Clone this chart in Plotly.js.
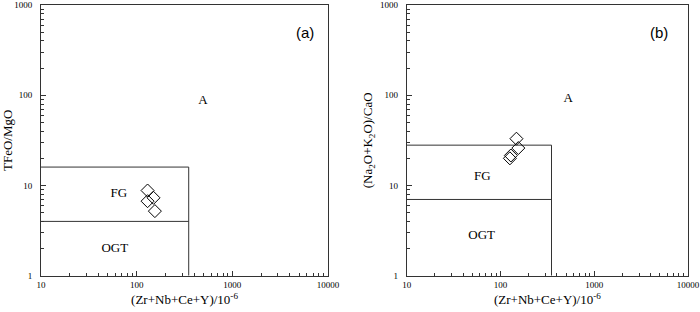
<!DOCTYPE html>
<html><head><meta charset="utf-8">
<script src="https://cdn.plot.ly/plotly-3.0.1.min.js"></script>
<style>html,body{margin:0;padding:0;background:#fff}</style>
</head><body>
<div id="chart" style="width:700px;height:312px"></div>
<script>
// Panel (a) samples
const sampleA_x = [130, 150, 130, 155];
const sampleA_y = [8.8, 7.3, 6.7, 5.2];
// Panel (b) samples
const sampleB_x = [148, 155, 129, 126];
const sampleB_y = [33, 26, 21.5, 20];
// Field boundaries
const boxA_x = [10, 350, 350];
const boxA_y = [16, 16, 1];
const ogtA_x = [10, 350];
const ogtA_y = [4, 4];
const boxB_x = [10, 350, 350];
const boxB_y = [28, 28, 1];
const ogtB_x = [10, 350];
const ogtB_y = [7, 7];
// Field labels
const labels = ['A', 'FG', 'OGT'];
const labelA_x = [493, 65, 59];
const labelA_y = [87, 8, 2];
const labelB_x = [526, 64, 63];
const labelB_y = [92, 12.5, 2.8];
// Tick labels
const xTickVals = [10, 100, 1000, 10000];
const xTickText = ['10', '100', '1000', '10000'];
const yTickVals = [1, 10, 100, 1000];
const yTickText = ['1', '10', '100', '1000'];
const xMinorVals = [20,30,40,50,60,70,80,90,200,300,400,500,600,700,800,900,2000,3000,4000,5000,6000,7000,8000,9000];
const yMinorVals = [2,3,4,5,6,7,8,9,20,30,40,50,60,70,80,90,200,300,400,500,600,700,800,900];

const lineCol = '#333';
const serif = 'Liberation Serif, Times New Roman, serif';

function lineTrace(x, y, xa, ya) {
  return {x, y, xaxis: xa, yaxis: ya, mode: 'lines', type: 'scatter',
    line: {color: lineCol, width: 1}, hoverinfo: 'skip', showlegend: false};
}
function ptTrace(x, y, xa, ya) {
  return {x, y, xaxis: xa, yaxis: ya, mode: 'markers', type: 'scatter',
    marker: {symbol: 'diamond-open', size: 10, color: '#000', line: {width: 1}}, showlegend: false};
}
function txtTrace(x, y, xa, ya) {
  return {x, y, text: labels, xaxis: xa, yaxis: ya, mode: 'text', type: 'scatter',
    textfont: {family: serif, size: 13, color: '#000'}, hoverinfo: 'skip', showlegend: false};
}

const data = [
  lineTrace(boxA_x, boxA_y, 'x', 'y'),
  lineTrace(ogtA_x, ogtA_y, 'x', 'y'),
  txtTrace(labelA_x, labelA_y, 'x', 'y'),
  ptTrace(sampleA_x, sampleA_y, 'x', 'y'),
  lineTrace(boxB_x, boxB_y, 'x2', 'y2'),
  lineTrace(ogtB_x, ogtB_y, 'x2', 'y2'),
  txtTrace(labelB_x, labelB_y, 'x2', 'y2'),
  ptTrace(sampleB_x, sampleB_y, 'x2', 'y2')
];

function xax(dom, anchor) {
  return {domain: dom, anchor, type: 'log', range: [1, 4.0005],
    tickmode: 'array', tickvals: xTickVals, ticktext: xTickText, ticklabeloverflow: 'allow',
    showgrid: false, zeroline: false, showline: true, mirror: true, linecolor: lineCol, linewidth: 1,
    ticks: 'inside', ticklen: 5, tickcolor: lineCol, tickfont: {family: serif, size: 9, color: '#000'},
    minor: {ticks: 'inside', ticklen: 3, tickmode: 'array', tickvals: xMinorVals, tickcolor: lineCol, showgrid: false},
    title: {text: '(Zr+Nb+Ce+Y)/10<sup>-6</sup>', font: {family: serif, size: 13, color: '#000'}, standoff: 6}};
}
function yax(dom, anchor, title) {
  return {domain: dom, anchor, type: 'log', range: [0, 3.0005],
    tickmode: 'array', tickvals: yTickVals, ticktext: yTickText, ticklabeloverflow: 'allow',
    showgrid: false, zeroline: false, showline: true, mirror: true, linecolor: lineCol, linewidth: 1,
    ticks: 'inside', ticklen: 5, tickcolor: lineCol, tickfont: {family: serif, size: 9, color: '#000'},
    ticklabelstandoff: 6,
    minor: {ticks: 'inside', ticklen: 3, tickmode: 'array', tickvals: yMinorVals, tickcolor: lineCol, showgrid: false},
    title: {text: title, font: {family: serif, size: 13, color: '#000'}, standoff: 4}};
}

const layout = {
  width: 700, height: 312,
  margin: {l: 0, r: 0, t: 0, b: 0},
  paper_bgcolor: '#fff', plot_bgcolor: '#fff',
  showlegend: false,
  xaxis: xax([0.0586, 0.4686], 'y'),
  yaxis: yax([0.1163, 0.984], 'x', 'TFeO/MgO'),
  xaxis2: xax([0.581, 0.983], 'y2'),
  yaxis2: yax([0.1163, 0.984], 'x2', '(Na<sub>2</sub>O+K<sub>2</sub>O)/CaO'),
  annotations: [
    {text: '(a)', xref: 'paper', yref: 'paper', x: 305/700, y: 1 - 22/312, showarrow: false,
      font: {family: 'Liberation Sans, Arial, sans-serif', size: 15, color: '#000'}},
    {text: '(b)', xref: 'paper', yref: 'paper', x: 670/700, y: 1 - 22/312, showarrow: false,
      font: {family: 'Liberation Sans, Arial, sans-serif', size: 15, color: '#000'}}
  ]
};

Plotly.newPlot('chart', data, layout, {staticPlot: true, displayModeBar: false});
</script>
</body></html>
